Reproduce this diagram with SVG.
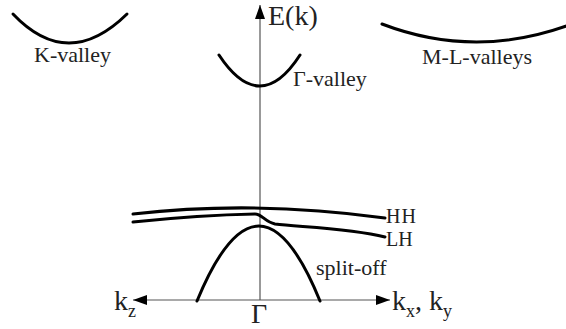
<svg xmlns="http://www.w3.org/2000/svg" width="566" height="329" viewBox="0 0 566 329">
<style>
.curve{fill:none;stroke:#000;stroke-width:3;stroke-linecap:round;stroke-linejoin:round}
.axis{fill:none;stroke:#555;stroke-width:1.2}
text{font-family:'Liberation Serif','DejaVu Serif','Times New Roman',serif;fill:#222}
.lbl{font-size:22px}
.mid{font-size:20px}
.big{font-size:28px}
.sub{font-size:18px}
</style>
<defs>
<marker id="ah" viewBox="0 0 14 10" refX="14" refY="5" markerWidth="14" markerHeight="10" markerUnits="userSpaceOnUse" orient="auto">
<path d="M0,0 L14,5 L0,10 Z" fill="#000"/>
</marker>
</defs>
<rect width="566" height="329" fill="#fff"/>
<g id="connectors">
<line class="axis" x1="260" y1="300" x2="260" y2="5" marker-end="url(#ah)"/>
<line class="axis" x1="260" y1="300" x2="133" y2="300" marker-end="url(#ah)"/>
<line class="axis" x1="260" y1="300" x2="390" y2="300" marker-end="url(#ah)"/>
</g>
<g id="k-valley">
<path class="curve" d="M13,14 Q68,72 127,14"/>
<text class="lbl" x="34" y="62" font-family="Liberation Serif, DejaVu Serif, serif">K-valley</text>
</g>
<g id="gamma-valley">
<path class="curve" d="M219,55 Q260,117 300,55"/>
<text class="lbl" x="293" y="86" font-family="Liberation Serif, DejaVu Serif, serif">Γ-valley</text>
</g>
<g id="ml-valleys">
<path class="curve" d="M382,24 Q476,60 572,24"/>
<text class="lbl" x="422" y="64" font-family="Liberation Serif, DejaVu Serif, serif">M-L-valleys</text>
</g>
<g id="hh">
<path class="curve" d="M133,214 Q255,200 385,218"/>
<text class="lbl mid" x="386" y="223" font-family="Liberation Serif, DejaVu Serif, serif" textLength="30">HH</text>
</g>
<g id="lh">
<path class="curve" d="M133,222 Q200,215 255,214 C262,214 265,222 275,224 C300,227 350,228 385,237"/>
<text class="lbl mid" x="386" y="246" font-family="Liberation Serif, DejaVu Serif, serif">LH</text>
</g>
<g id="split-off">
<path class="curve" d="M197,301 Q259,151 320,301"/>
<text class="lbl" x="316" y="275" font-family="Liberation Serif, DejaVu Serif, serif">split-off</text>
</g>
<g id="labels" font-family="Liberation Serif, DejaVu Serif, serif">
<text class="big" x="268" y="25">E(k)</text>
<text class="big" x="251" y="323">Γ</text>
<text class="big" x="114" y="310">k<tspan class="sub" dy="7">z</tspan></text>
<text class="big" x="392" y="310">k<tspan class="sub" dy="7">x</tspan><tspan dy="-7">, k</tspan><tspan class="sub" dy="7">y</tspan></text>
</g>
</svg>
